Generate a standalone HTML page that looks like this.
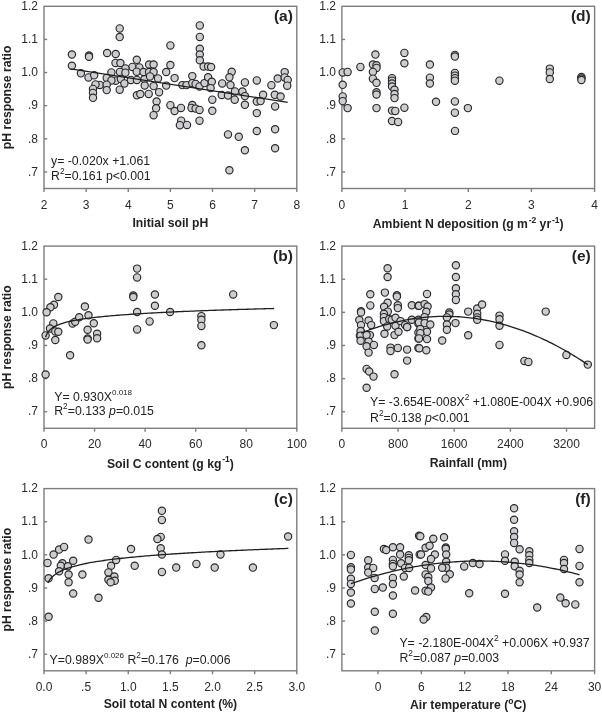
<!DOCTYPE html>
<html><head><meta charset="utf-8"><style>html,body{margin:0;padding:0;background:#fff;width:602px;height:713px;overflow:hidden}svg{display:block;filter:blur(0.3px)}</style></head><body>
<svg width="602" height="713" viewBox="0 0 602 713">
<style>text{font-family:"Liberation Sans",sans-serif;fill:#222}.tk{font-size:12px;fill:#2a2a2a}.eq{font-size:12.3px}.ti{font-size:12.2px;font-weight:bold}.lb{font-size:15.5px;font-weight:bold}.sup{font-size:8px}.tsup{font-size:8.5px}.esup{font-size:8.3px}circle{fill:#cdcdd1;stroke:#282828;stroke-width:1.15}</style>
<rect width="602" height="713" fill="#fff"/>
<text transform="translate(11.2,97.40) rotate(-90)" text-anchor="middle" class="ti">pH response ratio</text>
<text transform="translate(11.2,337.20) rotate(-90)" text-anchor="middle" class="ti">pH response ratio</text>
<text transform="translate(11.2,579.70) rotate(-90)" text-anchor="middle" class="ti">pH response ratio</text>
<rect x="44.0" y="6.3" width="252.80" height="182.2" fill="none" stroke="#7d7d7d" stroke-width="1.4"/>
<text x="38.00" y="10.00" text-anchor="end" class="tk">1.2</text>
<line x1="44.0" y1="39.43" x2="47.2" y2="39.43" stroke="#7d7d7d" stroke-width="1.4"/>
<text x="38.00" y="43.13" text-anchor="end" class="tk">1.1</text>
<line x1="44.0" y1="72.55" x2="47.2" y2="72.55" stroke="#7d7d7d" stroke-width="1.4"/>
<text x="38.00" y="76.25" text-anchor="end" class="tk">1.0</text>
<line x1="44.0" y1="105.68" x2="47.2" y2="105.68" stroke="#7d7d7d" stroke-width="1.4"/>
<text x="38.00" y="109.38" text-anchor="end" class="tk">.9</text>
<line x1="44.0" y1="138.81" x2="47.2" y2="138.81" stroke="#7d7d7d" stroke-width="1.4"/>
<text x="38.00" y="142.51" text-anchor="end" class="tk">.8</text>
<line x1="44.0" y1="171.94" x2="47.2" y2="171.94" stroke="#7d7d7d" stroke-width="1.4"/>
<text x="38.00" y="175.64" text-anchor="end" class="tk">.7</text>
<line x1="44.00" y1="188.5" x2="44.00" y2="191.9" stroke="#7d7d7d" stroke-width="1.4"/>
<text x="44.00" y="208.50" text-anchor="middle" class="tk">2</text>
<line x1="86.13" y1="188.5" x2="86.13" y2="191.9" stroke="#7d7d7d" stroke-width="1.4"/>
<text x="86.13" y="208.50" text-anchor="middle" class="tk">3</text>
<line x1="128.27" y1="188.5" x2="128.27" y2="191.9" stroke="#7d7d7d" stroke-width="1.4"/>
<text x="128.27" y="208.50" text-anchor="middle" class="tk">4</text>
<line x1="170.40" y1="188.5" x2="170.40" y2="191.9" stroke="#7d7d7d" stroke-width="1.4"/>
<text x="170.40" y="208.50" text-anchor="middle" class="tk">5</text>
<line x1="212.53" y1="188.5" x2="212.53" y2="191.9" stroke="#7d7d7d" stroke-width="1.4"/>
<text x="212.53" y="208.50" text-anchor="middle" class="tk">6</text>
<line x1="254.67" y1="188.5" x2="254.67" y2="191.9" stroke="#7d7d7d" stroke-width="1.4"/>
<text x="254.67" y="208.50" text-anchor="middle" class="tk">7</text>
<line x1="296.80" y1="188.5" x2="296.80" y2="191.9" stroke="#7d7d7d" stroke-width="1.4"/>
<text x="296.80" y="208.50" text-anchor="middle" class="tk">8</text>
<text x="292.90" y="21.30" text-anchor="end" class="lb">(a)</text>
<rect x="341.9" y="6.3" width="252.70" height="182.2" fill="none" stroke="#7d7d7d" stroke-width="1.4"/>
<text x="335.90" y="10.00" text-anchor="end" class="tk">1.2</text>
<line x1="341.9" y1="39.43" x2="345.09999999999997" y2="39.43" stroke="#7d7d7d" stroke-width="1.4"/>
<text x="335.90" y="43.13" text-anchor="end" class="tk">1.1</text>
<line x1="341.9" y1="72.55" x2="345.09999999999997" y2="72.55" stroke="#7d7d7d" stroke-width="1.4"/>
<text x="335.90" y="76.25" text-anchor="end" class="tk">1.0</text>
<line x1="341.9" y1="105.68" x2="345.09999999999997" y2="105.68" stroke="#7d7d7d" stroke-width="1.4"/>
<text x="335.90" y="109.38" text-anchor="end" class="tk">.9</text>
<line x1="341.9" y1="138.81" x2="345.09999999999997" y2="138.81" stroke="#7d7d7d" stroke-width="1.4"/>
<text x="335.90" y="142.51" text-anchor="end" class="tk">.8</text>
<line x1="341.9" y1="171.94" x2="345.09999999999997" y2="171.94" stroke="#7d7d7d" stroke-width="1.4"/>
<text x="335.90" y="175.64" text-anchor="end" class="tk">.7</text>
<line x1="341.90" y1="188.5" x2="341.90" y2="191.9" stroke="#7d7d7d" stroke-width="1.4"/>
<text x="341.90" y="208.50" text-anchor="middle" class="tk">0</text>
<line x1="405.07" y1="188.5" x2="405.07" y2="191.9" stroke="#7d7d7d" stroke-width="1.4"/>
<text x="405.07" y="208.50" text-anchor="middle" class="tk">1</text>
<line x1="468.25" y1="188.5" x2="468.25" y2="191.9" stroke="#7d7d7d" stroke-width="1.4"/>
<text x="468.25" y="208.50" text-anchor="middle" class="tk">2</text>
<line x1="531.42" y1="188.5" x2="531.42" y2="191.9" stroke="#7d7d7d" stroke-width="1.4"/>
<text x="531.42" y="208.50" text-anchor="middle" class="tk">3</text>
<line x1="594.60" y1="188.5" x2="594.60" y2="191.9" stroke="#7d7d7d" stroke-width="1.4"/>
<text x="594.60" y="208.50" text-anchor="middle" class="tk">4</text>
<text x="590.70" y="21.30" text-anchor="end" class="lb">(d)</text>
<rect x="44.0" y="246.1" width="252.80" height="182.2" fill="none" stroke="#7d7d7d" stroke-width="1.4"/>
<text x="38.00" y="249.80" text-anchor="end" class="tk">1.2</text>
<line x1="44.0" y1="279.23" x2="47.2" y2="279.23" stroke="#7d7d7d" stroke-width="1.4"/>
<text x="38.00" y="282.93" text-anchor="end" class="tk">1.1</text>
<line x1="44.0" y1="312.35" x2="47.2" y2="312.35" stroke="#7d7d7d" stroke-width="1.4"/>
<text x="38.00" y="316.05" text-anchor="end" class="tk">1.0</text>
<line x1="44.0" y1="345.48" x2="47.2" y2="345.48" stroke="#7d7d7d" stroke-width="1.4"/>
<text x="38.00" y="349.18" text-anchor="end" class="tk">.9</text>
<line x1="44.0" y1="378.61" x2="47.2" y2="378.61" stroke="#7d7d7d" stroke-width="1.4"/>
<text x="38.00" y="382.31" text-anchor="end" class="tk">.8</text>
<line x1="44.0" y1="411.74" x2="47.2" y2="411.74" stroke="#7d7d7d" stroke-width="1.4"/>
<text x="38.00" y="415.44" text-anchor="end" class="tk">.7</text>
<line x1="44.00" y1="428.29999999999995" x2="44.00" y2="431.69999999999993" stroke="#7d7d7d" stroke-width="1.4"/>
<text x="44.00" y="448.30" text-anchor="middle" class="tk">0</text>
<line x1="94.56" y1="428.29999999999995" x2="94.56" y2="431.69999999999993" stroke="#7d7d7d" stroke-width="1.4"/>
<text x="94.56" y="448.30" text-anchor="middle" class="tk">20</text>
<line x1="145.12" y1="428.29999999999995" x2="145.12" y2="431.69999999999993" stroke="#7d7d7d" stroke-width="1.4"/>
<text x="145.12" y="448.30" text-anchor="middle" class="tk">40</text>
<line x1="195.68" y1="428.29999999999995" x2="195.68" y2="431.69999999999993" stroke="#7d7d7d" stroke-width="1.4"/>
<text x="195.68" y="448.30" text-anchor="middle" class="tk">60</text>
<line x1="246.24" y1="428.29999999999995" x2="246.24" y2="431.69999999999993" stroke="#7d7d7d" stroke-width="1.4"/>
<text x="246.24" y="448.30" text-anchor="middle" class="tk">80</text>
<line x1="296.80" y1="428.29999999999995" x2="296.80" y2="431.69999999999993" stroke="#7d7d7d" stroke-width="1.4"/>
<text x="296.80" y="448.30" text-anchor="middle" class="tk">100</text>
<text x="292.90" y="261.10" text-anchor="end" class="lb">(b)</text>
<rect x="341.9" y="246.1" width="252.70" height="182.2" fill="none" stroke="#7d7d7d" stroke-width="1.4"/>
<text x="335.90" y="249.80" text-anchor="end" class="tk">1.2</text>
<line x1="341.9" y1="279.23" x2="345.09999999999997" y2="279.23" stroke="#7d7d7d" stroke-width="1.4"/>
<text x="335.90" y="282.93" text-anchor="end" class="tk">1.1</text>
<line x1="341.9" y1="312.35" x2="345.09999999999997" y2="312.35" stroke="#7d7d7d" stroke-width="1.4"/>
<text x="335.90" y="316.05" text-anchor="end" class="tk">1.0</text>
<line x1="341.9" y1="345.48" x2="345.09999999999997" y2="345.48" stroke="#7d7d7d" stroke-width="1.4"/>
<text x="335.90" y="349.18" text-anchor="end" class="tk">.9</text>
<line x1="341.9" y1="378.61" x2="345.09999999999997" y2="378.61" stroke="#7d7d7d" stroke-width="1.4"/>
<text x="335.90" y="382.31" text-anchor="end" class="tk">.8</text>
<line x1="341.9" y1="411.74" x2="345.09999999999997" y2="411.74" stroke="#7d7d7d" stroke-width="1.4"/>
<text x="335.90" y="415.44" text-anchor="end" class="tk">.7</text>
<line x1="341.90" y1="428.29999999999995" x2="341.90" y2="431.69999999999993" stroke="#7d7d7d" stroke-width="1.4"/>
<text x="341.90" y="448.30" text-anchor="middle" class="tk">0</text>
<line x1="398.06" y1="428.29999999999995" x2="398.06" y2="431.69999999999993" stroke="#7d7d7d" stroke-width="1.4"/>
<text x="398.06" y="448.30" text-anchor="middle" class="tk">800</text>
<line x1="454.21" y1="428.29999999999995" x2="454.21" y2="431.69999999999993" stroke="#7d7d7d" stroke-width="1.4"/>
<text x="454.21" y="448.30" text-anchor="middle" class="tk">1600</text>
<line x1="510.37" y1="428.29999999999995" x2="510.37" y2="431.69999999999993" stroke="#7d7d7d" stroke-width="1.4"/>
<text x="510.37" y="448.30" text-anchor="middle" class="tk">2400</text>
<line x1="566.52" y1="428.29999999999995" x2="566.52" y2="431.69999999999993" stroke="#7d7d7d" stroke-width="1.4"/>
<text x="566.52" y="448.30" text-anchor="middle" class="tk">3200</text>
<text x="590.70" y="261.10" text-anchor="end" class="lb">(e)</text>
<rect x="44.0" y="488.6" width="252.80" height="182.2" fill="none" stroke="#7d7d7d" stroke-width="1.4"/>
<text x="38.00" y="492.30" text-anchor="end" class="tk">1.2</text>
<line x1="44.0" y1="521.73" x2="47.2" y2="521.73" stroke="#7d7d7d" stroke-width="1.4"/>
<text x="38.00" y="525.43" text-anchor="end" class="tk">1.1</text>
<line x1="44.0" y1="554.85" x2="47.2" y2="554.85" stroke="#7d7d7d" stroke-width="1.4"/>
<text x="38.00" y="558.55" text-anchor="end" class="tk">1.0</text>
<line x1="44.0" y1="587.98" x2="47.2" y2="587.98" stroke="#7d7d7d" stroke-width="1.4"/>
<text x="38.00" y="591.68" text-anchor="end" class="tk">.9</text>
<line x1="44.0" y1="621.11" x2="47.2" y2="621.11" stroke="#7d7d7d" stroke-width="1.4"/>
<text x="38.00" y="624.81" text-anchor="end" class="tk">.8</text>
<line x1="44.0" y1="654.24" x2="47.2" y2="654.24" stroke="#7d7d7d" stroke-width="1.4"/>
<text x="38.00" y="657.94" text-anchor="end" class="tk">.7</text>
<line x1="44.00" y1="670.8" x2="44.00" y2="674.1999999999999" stroke="#7d7d7d" stroke-width="1.4"/>
<text x="44.00" y="690.80" text-anchor="middle" class="tk">0.0</text>
<line x1="86.13" y1="670.8" x2="86.13" y2="674.1999999999999" stroke="#7d7d7d" stroke-width="1.4"/>
<text x="86.13" y="690.80" text-anchor="middle" class="tk">.5</text>
<line x1="128.27" y1="670.8" x2="128.27" y2="674.1999999999999" stroke="#7d7d7d" stroke-width="1.4"/>
<text x="128.27" y="690.80" text-anchor="middle" class="tk">1.0</text>
<line x1="170.40" y1="670.8" x2="170.40" y2="674.1999999999999" stroke="#7d7d7d" stroke-width="1.4"/>
<text x="170.40" y="690.80" text-anchor="middle" class="tk">1.5</text>
<line x1="212.53" y1="670.8" x2="212.53" y2="674.1999999999999" stroke="#7d7d7d" stroke-width="1.4"/>
<text x="212.53" y="690.80" text-anchor="middle" class="tk">2.0</text>
<line x1="254.67" y1="670.8" x2="254.67" y2="674.1999999999999" stroke="#7d7d7d" stroke-width="1.4"/>
<text x="254.67" y="690.80" text-anchor="middle" class="tk">2.5</text>
<line x1="296.80" y1="670.8" x2="296.80" y2="674.1999999999999" stroke="#7d7d7d" stroke-width="1.4"/>
<text x="296.80" y="690.80" text-anchor="middle" class="tk">3.0</text>
<text x="292.90" y="503.60" text-anchor="end" class="lb">(c)</text>
<rect x="341.9" y="488.6" width="252.70" height="182.2" fill="none" stroke="#7d7d7d" stroke-width="1.4"/>
<text x="335.90" y="492.30" text-anchor="end" class="tk">1.2</text>
<line x1="341.9" y1="521.73" x2="345.09999999999997" y2="521.73" stroke="#7d7d7d" stroke-width="1.4"/>
<text x="335.90" y="525.43" text-anchor="end" class="tk">1.1</text>
<line x1="341.9" y1="554.85" x2="345.09999999999997" y2="554.85" stroke="#7d7d7d" stroke-width="1.4"/>
<text x="335.90" y="558.55" text-anchor="end" class="tk">1.0</text>
<line x1="341.9" y1="587.98" x2="345.09999999999997" y2="587.98" stroke="#7d7d7d" stroke-width="1.4"/>
<text x="335.90" y="591.68" text-anchor="end" class="tk">.9</text>
<line x1="341.9" y1="621.11" x2="345.09999999999997" y2="621.11" stroke="#7d7d7d" stroke-width="1.4"/>
<text x="335.90" y="624.81" text-anchor="end" class="tk">.8</text>
<line x1="341.9" y1="654.24" x2="345.09999999999997" y2="654.24" stroke="#7d7d7d" stroke-width="1.4"/>
<text x="335.90" y="657.94" text-anchor="end" class="tk">.7</text>
<line x1="378.00" y1="670.8" x2="378.00" y2="674.1999999999999" stroke="#7d7d7d" stroke-width="1.4"/>
<text x="378.00" y="690.80" text-anchor="middle" class="tk">0</text>
<line x1="421.32" y1="670.8" x2="421.32" y2="674.1999999999999" stroke="#7d7d7d" stroke-width="1.4"/>
<text x="421.32" y="690.80" text-anchor="middle" class="tk">6</text>
<line x1="464.64" y1="670.8" x2="464.64" y2="674.1999999999999" stroke="#7d7d7d" stroke-width="1.4"/>
<text x="464.64" y="690.80" text-anchor="middle" class="tk">12</text>
<line x1="507.96" y1="670.8" x2="507.96" y2="674.1999999999999" stroke="#7d7d7d" stroke-width="1.4"/>
<text x="507.96" y="690.80" text-anchor="middle" class="tk">18</text>
<line x1="551.28" y1="670.8" x2="551.28" y2="674.1999999999999" stroke="#7d7d7d" stroke-width="1.4"/>
<text x="551.28" y="690.80" text-anchor="middle" class="tk">24</text>
<line x1="594.60" y1="670.8" x2="594.60" y2="674.1999999999999" stroke="#7d7d7d" stroke-width="1.4"/>
<text x="594.60" y="690.80" text-anchor="middle" class="tk">30</text>
<text x="590.70" y="503.60" text-anchor="end" class="lb">(f)</text>
<circle cx="71.9" cy="54.5" r="3.65"/>
<circle cx="71.9" cy="65.8" r="3.65"/>
<circle cx="89.0" cy="55.6" r="3.65"/>
<circle cx="89.0" cy="56.7" r="3.65"/>
<circle cx="80.9" cy="73.3" r="3.65"/>
<circle cx="88.5" cy="77.4" r="3.65"/>
<circle cx="94.2" cy="75.3" r="3.65"/>
<circle cx="119.7" cy="28.4" r="3.65"/>
<circle cx="119.7" cy="37.1" r="3.65"/>
<circle cx="107.1" cy="53" r="3.65"/>
<circle cx="115.7" cy="54" r="3.65"/>
<circle cx="115.5" cy="62.9" r="3.65"/>
<circle cx="120.4" cy="63" r="3.65"/>
<circle cx="136.8" cy="59.8" r="3.65"/>
<circle cx="132.4" cy="66.9" r="3.65"/>
<circle cx="139.4" cy="67.4" r="3.65"/>
<circle cx="125.4" cy="68.4" r="3.65"/>
<circle cx="119.9" cy="71.9" r="3.65"/>
<circle cx="136.7" cy="71.7" r="3.65"/>
<circle cx="125.4" cy="72.7" r="3.65"/>
<circle cx="111.4" cy="72.4" r="3.65"/>
<circle cx="106.7" cy="77.9" r="3.65"/>
<circle cx="115.7" cy="80.7" r="3.65"/>
<circle cx="120.9" cy="78.9" r="3.65"/>
<circle cx="124.4" cy="83.4" r="3.65"/>
<circle cx="130.9" cy="79.9" r="3.65"/>
<circle cx="136.9" cy="79.9" r="3.65"/>
<circle cx="111.4" cy="80.4" r="3.65"/>
<circle cx="99.8" cy="84.9" r="3.65"/>
<circle cx="95.5" cy="84.4" r="3.65"/>
<circle cx="106.7" cy="84.7" r="3.65"/>
<circle cx="106.7" cy="90.1" r="3.65"/>
<circle cx="119.7" cy="89.7" r="3.65"/>
<circle cx="93" cy="88.9" r="3.65"/>
<circle cx="93" cy="92.9" r="3.65"/>
<circle cx="93" cy="97.8" r="3.65"/>
<circle cx="136.9" cy="95.3" r="3.65"/>
<circle cx="140.3" cy="94" r="3.65"/>
<circle cx="144.5" cy="79" r="3.65"/>
<circle cx="144.7" cy="85.5" r="3.65"/>
<circle cx="148.7" cy="93.9" r="3.65"/>
<circle cx="143.5" cy="72" r="3.65"/>
<circle cx="199.8" cy="25.4" r="3.65"/>
<circle cx="199.8" cy="36.9" r="3.65"/>
<circle cx="170.4" cy="45.4" r="3.65"/>
<circle cx="199.8" cy="48.7" r="3.65"/>
<circle cx="199.8" cy="54.5" r="3.65"/>
<circle cx="199.8" cy="60.2" r="3.65"/>
<circle cx="203.6" cy="66.5" r="3.65"/>
<circle cx="208.1" cy="66.5" r="3.65"/>
<circle cx="211.1" cy="67" r="3.65"/>
<circle cx="170.4" cy="65.1" r="3.65"/>
<circle cx="166.2" cy="72" r="3.65"/>
<circle cx="149.1" cy="64.5" r="3.65"/>
<circle cx="153.6" cy="64.5" r="3.65"/>
<circle cx="149.1" cy="72" r="3.65"/>
<circle cx="153.6" cy="72" r="3.65"/>
<circle cx="158" cy="78.4" r="3.65"/>
<circle cx="150" cy="76.4" r="3.65"/>
<circle cx="153.6" cy="86.1" r="3.65"/>
<circle cx="159.1" cy="92.2" r="3.65"/>
<circle cx="166.2" cy="85.6" r="3.65"/>
<circle cx="174.6" cy="78.1" r="3.65"/>
<circle cx="182.4" cy="85.1" r="3.65"/>
<circle cx="186.5" cy="85.1" r="3.65"/>
<circle cx="192.3" cy="76.1" r="3.65"/>
<circle cx="192.3" cy="83.1" r="3.65"/>
<circle cx="195.6" cy="83.9" r="3.65"/>
<circle cx="199.5" cy="86.4" r="3.65"/>
<circle cx="204.5" cy="83.1" r="3.65"/>
<circle cx="208.1" cy="77.3" r="3.65"/>
<circle cx="211.8" cy="81.8" r="3.65"/>
<circle cx="210.6" cy="88.1" r="3.65"/>
<circle cx="222.2" cy="83.4" r="3.65"/>
<circle cx="231.7" cy="71.8" r="3.65"/>
<circle cx="229.4" cy="77.3" r="3.65"/>
<circle cx="230.5" cy="85.1" r="3.65"/>
<circle cx="235" cy="91.4" r="3.65"/>
<circle cx="221.7" cy="95" r="3.65"/>
<circle cx="228" cy="95.5" r="3.65"/>
<circle cx="234.7" cy="99.7" r="3.65"/>
<circle cx="212.3" cy="99.7" r="3.65"/>
<circle cx="156.6" cy="101.5" r="3.65"/>
<circle cx="156.1" cy="108.3" r="3.65"/>
<circle cx="153.6" cy="115.2" r="3.65"/>
<circle cx="170.4" cy="105.2" r="3.65"/>
<circle cx="174.6" cy="111" r="3.65"/>
<circle cx="181" cy="107.9" r="3.65"/>
<circle cx="192.3" cy="105" r="3.65"/>
<circle cx="191.5" cy="107.9" r="3.65"/>
<circle cx="195.6" cy="108.6" r="3.65"/>
<circle cx="199.5" cy="109.9" r="3.65"/>
<circle cx="212.3" cy="110.8" r="3.65"/>
<circle cx="199.5" cy="120.7" r="3.65"/>
<circle cx="181.2" cy="120.7" r="3.65"/>
<circle cx="179.9" cy="125.2" r="3.65"/>
<circle cx="187" cy="124.9" r="3.65"/>
<circle cx="228" cy="134.4" r="3.65"/>
<circle cx="238.8" cy="136.8" r="3.65"/>
<circle cx="229.4" cy="170.2" r="3.65"/>
<circle cx="244.9" cy="82.4" r="3.65"/>
<circle cx="242.4" cy="91.5" r="3.65"/>
<circle cx="244.9" cy="96.1" r="3.65"/>
<circle cx="244.9" cy="104.8" r="3.65"/>
<circle cx="256.8" cy="80.4" r="3.65"/>
<circle cx="263.1" cy="94.8" r="3.65"/>
<circle cx="256.8" cy="101.5" r="3.65"/>
<circle cx="260.6" cy="101.1" r="3.65"/>
<circle cx="256.8" cy="113.1" r="3.65"/>
<circle cx="256.8" cy="131" r="3.65"/>
<circle cx="271.4" cy="85.2" r="3.65"/>
<circle cx="274.8" cy="94.8" r="3.65"/>
<circle cx="280.6" cy="96.5" r="3.65"/>
<circle cx="275.1" cy="106.4" r="3.65"/>
<circle cx="275.1" cy="129.2" r="3.65"/>
<circle cx="277.7" cy="78.5" r="3.65"/>
<circle cx="284.7" cy="72.1" r="3.65"/>
<circle cx="284.7" cy="77.4" r="3.65"/>
<circle cx="287.7" cy="79.9" r="3.65"/>
<circle cx="287.2" cy="85.7" r="3.65"/>
<circle cx="244.9" cy="150.2" r="3.65"/>
<circle cx="275.1" cy="148.2" r="3.65"/>
<circle cx="58.3" cy="297" r="3.65"/>
<circle cx="54" cy="304.8" r="3.65"/>
<circle cx="50.4" cy="307.2" r="3.65"/>
<circle cx="46.6" cy="312.3" r="3.65"/>
<circle cx="53.3" cy="323.4" r="3.65"/>
<circle cx="50" cy="328.5" r="3.65"/>
<circle cx="45.6" cy="335.4" r="3.65"/>
<circle cx="55.3" cy="331.4" r="3.65"/>
<circle cx="58.3" cy="331.8" r="3.65"/>
<circle cx="55.3" cy="340" r="3.65"/>
<circle cx="72.6" cy="323.4" r="3.65"/>
<circle cx="75.2" cy="321.8" r="3.65"/>
<circle cx="79.2" cy="317.2" r="3.65"/>
<circle cx="84.9" cy="306.5" r="3.65"/>
<circle cx="88.5" cy="315.2" r="3.65"/>
<circle cx="93.8" cy="323.2" r="3.65"/>
<circle cx="87.6" cy="329.8" r="3.65"/>
<circle cx="87.6" cy="338.4" r="3.65"/>
<circle cx="87.6" cy="339.5" r="3.65"/>
<circle cx="97.1" cy="333.8" r="3.65"/>
<circle cx="97.1" cy="338.2" r="3.65"/>
<circle cx="137.1" cy="268.6" r="3.65"/>
<circle cx="137.1" cy="277.4" r="3.65"/>
<circle cx="133.3" cy="295.5" r="3.65"/>
<circle cx="133.3" cy="297" r="3.65"/>
<circle cx="137.1" cy="312" r="3.65"/>
<circle cx="137.1" cy="329.4" r="3.65"/>
<circle cx="154.9" cy="294.5" r="3.65"/>
<circle cx="154.9" cy="305.7" r="3.65"/>
<circle cx="149.6" cy="321.4" r="3.65"/>
<circle cx="170.1" cy="312" r="3.65"/>
<circle cx="201.4" cy="316.1" r="3.65"/>
<circle cx="201.4" cy="319.8" r="3.65"/>
<circle cx="201.4" cy="325.9" r="3.65"/>
<circle cx="201.4" cy="345.2" r="3.65"/>
<circle cx="233.2" cy="294.4" r="3.65"/>
<circle cx="273.9" cy="325.1" r="3.65"/>
<circle cx="70.1" cy="355.2" r="3.65"/>
<circle cx="45.6" cy="374.5" r="3.65"/>
<circle cx="47.5" cy="562.9" r="3.65"/>
<circle cx="48.6" cy="578.2" r="3.65"/>
<circle cx="48.6" cy="616.7" r="3.65"/>
<circle cx="53.6" cy="554.6" r="3.65"/>
<circle cx="59.1" cy="549.6" r="3.65"/>
<circle cx="64.1" cy="546.9" r="3.65"/>
<circle cx="62.4" cy="563.2" r="3.65"/>
<circle cx="60.8" cy="565.7" r="3.65"/>
<circle cx="59.1" cy="571.2" r="3.65"/>
<circle cx="67.9" cy="566.2" r="3.65"/>
<circle cx="73.2" cy="560.7" r="3.65"/>
<circle cx="68.6" cy="574.5" r="3.65"/>
<circle cx="68.6" cy="582.3" r="3.65"/>
<circle cx="73.2" cy="593.5" r="3.65"/>
<circle cx="88.5" cy="539.6" r="3.65"/>
<circle cx="82.4" cy="574.5" r="3.65"/>
<circle cx="98.5" cy="597.8" r="3.65"/>
<circle cx="111.1" cy="565.7" r="3.65"/>
<circle cx="116.1" cy="559.9" r="3.65"/>
<circle cx="108.4" cy="572.4" r="3.65"/>
<circle cx="114.4" cy="576.5" r="3.65"/>
<circle cx="108.4" cy="579.8" r="3.65"/>
<circle cx="114.8" cy="580.7" r="3.65"/>
<circle cx="110.6" cy="582.3" r="3.65"/>
<circle cx="131" cy="549.1" r="3.65"/>
<circle cx="134.7" cy="565.7" r="3.65"/>
<circle cx="161.9" cy="510.8" r="3.65"/>
<circle cx="161.9" cy="519.9" r="3.65"/>
<circle cx="160.7" cy="536.9" r="3.65"/>
<circle cx="157.4" cy="539" r="3.65"/>
<circle cx="160.7" cy="548.2" r="3.65"/>
<circle cx="161.9" cy="554.5" r="3.65"/>
<circle cx="161.9" cy="571.9" r="3.65"/>
<circle cx="176.2" cy="567.6" r="3.65"/>
<circle cx="196.4" cy="563.9" r="3.65"/>
<circle cx="214.7" cy="567.6" r="3.65"/>
<circle cx="220.5" cy="554.5" r="3.65"/>
<circle cx="288.1" cy="536.5" r="3.65"/>
<circle cx="252.9" cy="567.6" r="3.65"/>
<circle cx="342.7" cy="72.4" r="3.65"/>
<circle cx="347.6" cy="71.9" r="3.65"/>
<circle cx="342.7" cy="84.8" r="3.65"/>
<circle cx="342.7" cy="96.4" r="3.65"/>
<circle cx="342.7" cy="101.1" r="3.65"/>
<circle cx="347.6" cy="108.1" r="3.65"/>
<circle cx="360.4" cy="66.9" r="3.65"/>
<circle cx="375.4" cy="54.6" r="3.65"/>
<circle cx="372.9" cy="64.6" r="3.65"/>
<circle cx="376.5" cy="65.2" r="3.65"/>
<circle cx="376.5" cy="67.9" r="3.65"/>
<circle cx="372.9" cy="71.9" r="3.65"/>
<circle cx="372.9" cy="78.7" r="3.65"/>
<circle cx="376.5" cy="82.8" r="3.65"/>
<circle cx="376.5" cy="92.3" r="3.65"/>
<circle cx="376.5" cy="94.5" r="3.65"/>
<circle cx="376.5" cy="108.1" r="3.65"/>
<circle cx="392" cy="78.2" r="3.65"/>
<circle cx="392" cy="80.7" r="3.65"/>
<circle cx="392" cy="83.5" r="3.65"/>
<circle cx="392" cy="86.5" r="3.65"/>
<circle cx="394.5" cy="89.8" r="3.65"/>
<circle cx="394.5" cy="94" r="3.65"/>
<circle cx="394.5" cy="98.1" r="3.65"/>
<circle cx="392" cy="110.6" r="3.65"/>
<circle cx="395.3" cy="110.9" r="3.65"/>
<circle cx="392" cy="121" r="3.65"/>
<circle cx="398.1" cy="121.9" r="3.65"/>
<circle cx="404.4" cy="52.9" r="3.65"/>
<circle cx="404.4" cy="63.2" r="3.65"/>
<circle cx="404.4" cy="107.7" r="3.65"/>
<circle cx="429.9" cy="64.6" r="3.65"/>
<circle cx="429.9" cy="77.7" r="3.65"/>
<circle cx="429.9" cy="83.5" r="3.65"/>
<circle cx="436" cy="101.8" r="3.65"/>
<circle cx="454.9" cy="54.9" r="3.65"/>
<circle cx="454.9" cy="56.6" r="3.65"/>
<circle cx="454.9" cy="72.9" r="3.65"/>
<circle cx="454.9" cy="75.7" r="3.65"/>
<circle cx="454.9" cy="78.2" r="3.65"/>
<circle cx="454.9" cy="80.7" r="3.65"/>
<circle cx="454.9" cy="101.4" r="3.65"/>
<circle cx="454.9" cy="112.7" r="3.65"/>
<circle cx="455" cy="130.9" r="3.65"/>
<circle cx="467.9" cy="108.1" r="3.65"/>
<circle cx="499.4" cy="80.7" r="3.65"/>
<circle cx="549.8" cy="68.6" r="3.65"/>
<circle cx="549.8" cy="72.4" r="3.65"/>
<circle cx="549.8" cy="79" r="3.65"/>
<circle cx="581.4" cy="77" r="3.65"/>
<circle cx="581.4" cy="78.5" r="3.65"/>
<circle cx="581.4" cy="80" r="3.65"/>
<circle cx="387.6" cy="268.2" r="3.65"/>
<circle cx="387.6" cy="277" r="3.65"/>
<circle cx="370.3" cy="294.3" r="3.65"/>
<circle cx="384.9" cy="292.6" r="3.65"/>
<circle cx="396.9" cy="295.3" r="3.65"/>
<circle cx="396.9" cy="296.6" r="3.65"/>
<circle cx="370.3" cy="305.4" r="3.65"/>
<circle cx="387.6" cy="302.8" r="3.65"/>
<circle cx="384.1" cy="306.8" r="3.65"/>
<circle cx="387.8" cy="311.6" r="3.65"/>
<circle cx="397.8" cy="305.2" r="3.65"/>
<circle cx="397.8" cy="308.1" r="3.65"/>
<circle cx="411.8" cy="305.2" r="3.65"/>
<circle cx="418.4" cy="305.8" r="3.65"/>
<circle cx="361" cy="311.2" r="3.65"/>
<circle cx="361" cy="312.4" r="3.65"/>
<circle cx="359.3" cy="320.1" r="3.65"/>
<circle cx="361" cy="325.1" r="3.65"/>
<circle cx="361" cy="331.8" r="3.65"/>
<circle cx="359.9" cy="335.7" r="3.65"/>
<circle cx="368.6" cy="320.5" r="3.65"/>
<circle cx="371.2" cy="325.1" r="3.65"/>
<circle cx="367.2" cy="335.1" r="3.65"/>
<circle cx="369.9" cy="335.1" r="3.65"/>
<circle cx="383.9" cy="313.8" r="3.65"/>
<circle cx="383.9" cy="317.1" r="3.65"/>
<circle cx="383.9" cy="321.1" r="3.65"/>
<circle cx="387.2" cy="326.4" r="3.65"/>
<circle cx="389.2" cy="319.1" r="3.65"/>
<circle cx="391.8" cy="319.8" r="3.65"/>
<circle cx="395.5" cy="317.8" r="3.65"/>
<circle cx="395.5" cy="325.8" r="3.65"/>
<circle cx="400.5" cy="321.1" r="3.65"/>
<circle cx="405.1" cy="325.1" r="3.65"/>
<circle cx="407.1" cy="327.1" r="3.65"/>
<circle cx="411.8" cy="319.8" r="3.65"/>
<circle cx="418.4" cy="319.8" r="3.65"/>
<circle cx="418.4" cy="323.5" r="3.65"/>
<circle cx="384.5" cy="333.8" r="3.65"/>
<circle cx="394.5" cy="335.1" r="3.65"/>
<circle cx="398.5" cy="331.8" r="3.65"/>
<circle cx="418.4" cy="332.4" r="3.65"/>
<circle cx="418.4" cy="338.4" r="3.65"/>
<circle cx="360.6" cy="331" r="3.65"/>
<circle cx="360.6" cy="335.6" r="3.65"/>
<circle cx="360.6" cy="340.7" r="3.65"/>
<circle cx="366.6" cy="335" r="3.65"/>
<circle cx="368.6" cy="341.6" r="3.65"/>
<circle cx="366.6" cy="346.3" r="3.65"/>
<circle cx="373.9" cy="344.9" r="3.65"/>
<circle cx="368.6" cy="352.6" r="3.65"/>
<circle cx="366.6" cy="368.9" r="3.65"/>
<circle cx="369.2" cy="371.5" r="3.65"/>
<circle cx="373.5" cy="376.6" r="3.65"/>
<circle cx="366.6" cy="387.7" r="3.65"/>
<circle cx="390.5" cy="347.6" r="3.65"/>
<circle cx="390.5" cy="350.9" r="3.65"/>
<circle cx="397.8" cy="347.9" r="3.65"/>
<circle cx="407.1" cy="349.6" r="3.65"/>
<circle cx="407.1" cy="360.6" r="3.65"/>
<circle cx="394.5" cy="374.2" r="3.65"/>
<circle cx="418.4" cy="347.9" r="3.65"/>
<circle cx="407.1" cy="327" r="3.65"/>
<circle cx="455.9" cy="265.3" r="3.65"/>
<circle cx="455.9" cy="277" r="3.65"/>
<circle cx="455.9" cy="288.3" r="3.65"/>
<circle cx="455.9" cy="294.3" r="3.65"/>
<circle cx="455.9" cy="299.9" r="3.65"/>
<circle cx="427" cy="293.9" r="3.65"/>
<circle cx="419" cy="305.8" r="3.65"/>
<circle cx="424.6" cy="304.1" r="3.65"/>
<circle cx="427.6" cy="306.5" r="3.65"/>
<circle cx="426.3" cy="311.8" r="3.65"/>
<circle cx="424.6" cy="317.1" r="3.65"/>
<circle cx="419" cy="322.5" r="3.65"/>
<circle cx="424.6" cy="323.1" r="3.65"/>
<circle cx="430.3" cy="324.5" r="3.65"/>
<circle cx="420.3" cy="329.1" r="3.65"/>
<circle cx="427" cy="331.8" r="3.65"/>
<circle cx="420.3" cy="333.1" r="3.65"/>
<circle cx="419" cy="338.4" r="3.65"/>
<circle cx="427" cy="339.1" r="3.65"/>
<circle cx="442.2" cy="340.5" r="3.65"/>
<circle cx="449.3" cy="312.5" r="3.65"/>
<circle cx="449.3" cy="314.5" r="3.65"/>
<circle cx="446.9" cy="317.4" r="3.65"/>
<circle cx="446.9" cy="324.5" r="3.65"/>
<circle cx="446.9" cy="329.8" r="3.65"/>
<circle cx="455.5" cy="323.1" r="3.65"/>
<circle cx="468.2" cy="311.6" r="3.65"/>
<circle cx="468.2" cy="335.3" r="3.65"/>
<circle cx="477.2" cy="308.5" r="3.65"/>
<circle cx="482.1" cy="304.5" r="3.65"/>
<circle cx="477.2" cy="313.8" r="3.65"/>
<circle cx="477.2" cy="317.4" r="3.65"/>
<circle cx="477.2" cy="319.8" r="3.65"/>
<circle cx="419.3" cy="348.3" r="3.65"/>
<circle cx="426.3" cy="350.2" r="3.65"/>
<circle cx="499.5" cy="315.6" r="3.65"/>
<circle cx="499.5" cy="319.3" r="3.65"/>
<circle cx="499.5" cy="325.7" r="3.65"/>
<circle cx="499.5" cy="344.9" r="3.65"/>
<circle cx="545.7" cy="311.6" r="3.65"/>
<circle cx="524.4" cy="360.9" r="3.65"/>
<circle cx="528.4" cy="361.9" r="3.65"/>
<circle cx="566.4" cy="354.9" r="3.65"/>
<circle cx="587.8" cy="364.6" r="3.65"/>
<circle cx="350.9" cy="554.9" r="3.65"/>
<circle cx="350.9" cy="567.2" r="3.65"/>
<circle cx="350.9" cy="569.5" r="3.65"/>
<circle cx="350.9" cy="578.8" r="3.65"/>
<circle cx="350.9" cy="583.9" r="3.65"/>
<circle cx="350.9" cy="592.5" r="3.65"/>
<circle cx="350.9" cy="603.5" r="3.65"/>
<circle cx="368.2" cy="560.2" r="3.65"/>
<circle cx="368.2" cy="567.6" r="3.65"/>
<circle cx="373.2" cy="567.9" r="3.65"/>
<circle cx="368.2" cy="572.6" r="3.65"/>
<circle cx="374.6" cy="577.9" r="3.65"/>
<circle cx="374.8" cy="588.9" r="3.65"/>
<circle cx="374.8" cy="611.8" r="3.65"/>
<circle cx="382.8" cy="587.6" r="3.65"/>
<circle cx="383.9" cy="549" r="3.65"/>
<circle cx="386.2" cy="550" r="3.65"/>
<circle cx="392.9" cy="547.3" r="3.65"/>
<circle cx="400.1" cy="547.3" r="3.65"/>
<circle cx="400.1" cy="554.6" r="3.65"/>
<circle cx="392.9" cy="559.9" r="3.65"/>
<circle cx="392.9" cy="563.9" r="3.65"/>
<circle cx="392.9" cy="566.3" r="3.65"/>
<circle cx="392.9" cy="577.9" r="3.65"/>
<circle cx="392.9" cy="584.1" r="3.65"/>
<circle cx="392.9" cy="595.5" r="3.65"/>
<circle cx="392.9" cy="613.8" r="3.65"/>
<circle cx="401.1" cy="563.3" r="3.65"/>
<circle cx="403.8" cy="576.5" r="3.65"/>
<circle cx="408.8" cy="555.3" r="3.65"/>
<circle cx="408.8" cy="557.9" r="3.65"/>
<circle cx="408.8" cy="560.2" r="3.65"/>
<circle cx="405.1" cy="567.9" r="3.65"/>
<circle cx="409.1" cy="567.9" r="3.65"/>
<circle cx="415.1" cy="590.5" r="3.65"/>
<circle cx="419.7" cy="554.6" r="3.65"/>
<circle cx="419.1" cy="535.8" r="3.65"/>
<circle cx="374.8" cy="630.6" r="3.65"/>
<circle cx="420.3" cy="536.2" r="3.65"/>
<circle cx="433.3" cy="538.8" r="3.65"/>
<circle cx="444" cy="537.2" r="3.65"/>
<circle cx="425.6" cy="547.8" r="3.65"/>
<circle cx="429.6" cy="545.8" r="3.65"/>
<circle cx="421" cy="554.5" r="3.65"/>
<circle cx="434.9" cy="554.5" r="3.65"/>
<circle cx="431" cy="559.1" r="3.65"/>
<circle cx="445.8" cy="547.5" r="3.65"/>
<circle cx="445.8" cy="548.8" r="3.65"/>
<circle cx="446.2" cy="554.5" r="3.65"/>
<circle cx="446.2" cy="561.8" r="3.65"/>
<circle cx="446.2" cy="567.8" r="3.65"/>
<circle cx="442.2" cy="567.8" r="3.65"/>
<circle cx="425.6" cy="565.1" r="3.65"/>
<circle cx="431" cy="568.4" r="3.65"/>
<circle cx="449.8" cy="574.2" r="3.65"/>
<circle cx="445.6" cy="578.4" r="3.65"/>
<circle cx="425.6" cy="574.4" r="3.65"/>
<circle cx="428.3" cy="577.1" r="3.65"/>
<circle cx="464.2" cy="566.4" r="3.65"/>
<circle cx="472.8" cy="563.1" r="3.65"/>
<circle cx="479.5" cy="564.1" r="3.65"/>
<circle cx="428.3" cy="581" r="3.65"/>
<circle cx="431" cy="587.6" r="3.65"/>
<circle cx="425.6" cy="590.8" r="3.65"/>
<circle cx="428.3" cy="591.6" r="3.65"/>
<circle cx="469.2" cy="593.2" r="3.65"/>
<circle cx="426.3" cy="617.1" r="3.65"/>
<circle cx="423.6" cy="619.5" r="3.65"/>
<circle cx="514.1" cy="508.2" r="3.65"/>
<circle cx="514.1" cy="519.7" r="3.65"/>
<circle cx="514.1" cy="531.2" r="3.65"/>
<circle cx="514.1" cy="537" r="3.65"/>
<circle cx="514.1" cy="542.9" r="3.65"/>
<circle cx="519.6" cy="549.3" r="3.65"/>
<circle cx="505" cy="554.4" r="3.65"/>
<circle cx="505" cy="560.8" r="3.65"/>
<circle cx="514.7" cy="561.7" r="3.65"/>
<circle cx="514.7" cy="566.3" r="3.65"/>
<circle cx="519.6" cy="570.8" r="3.65"/>
<circle cx="519.6" cy="574.5" r="3.65"/>
<circle cx="519.6" cy="582.3" r="3.65"/>
<circle cx="505" cy="593.7" r="3.65"/>
<circle cx="529.3" cy="551.3" r="3.65"/>
<circle cx="529.3" cy="555.3" r="3.65"/>
<circle cx="529.3" cy="559.9" r="3.65"/>
<circle cx="529.3" cy="563" r="3.65"/>
<circle cx="564" cy="559.9" r="3.65"/>
<circle cx="564" cy="563" r="3.65"/>
<circle cx="564" cy="569" r="3.65"/>
<circle cx="579.5" cy="548.9" r="3.65"/>
<circle cx="579.5" cy="565.9" r="3.65"/>
<circle cx="579.5" cy="582.2" r="3.65"/>
<circle cx="560.3" cy="597.6" r="3.65"/>
<circle cx="565.6" cy="603.3" r="3.65"/>
<circle cx="575.3" cy="604.4" r="3.65"/>
<circle cx="537.2" cy="607.5" r="3.65"/>
<line x1="70.6" y1="68.9" x2="287.7" y2="102.3" stroke="#1e1e1e" stroke-width="1.3"/>
<polyline points="45.52,337.36 47.42,332.86 49.33,330.38 51.23,328.66 53.13,327.34 55.04,326.26 56.94,325.35 58.85,324.57 60.75,323.88 62.66,323.26 64.56,322.70 66.47,322.19 68.37,321.72 70.27,321.28 72.18,320.88 74.08,320.50 75.99,320.14 77.89,319.81 79.80,319.49 81.70,319.19 83.61,318.90 85.51,318.63 87.41,318.37 89.32,318.11 91.22,317.87 93.13,317.64 95.03,317.42 96.94,317.21 98.84,317.00 100.75,316.80 102.65,316.60 104.55,316.42 106.46,316.24 108.36,316.06 110.27,315.89 112.17,315.72 114.08,315.56 115.98,315.40 117.89,315.25 119.79,315.10 121.69,314.95 123.60,314.81 125.50,314.67 127.41,314.53 129.31,314.40 131.22,314.27 133.12,314.14 135.02,314.02 136.93,313.89 138.83,313.77 140.74,313.65 142.64,313.54 144.55,313.43 146.45,313.31 148.36,313.21 150.26,313.10 152.16,312.99 154.07,312.89 155.97,312.79 157.88,312.69 159.78,312.59 161.69,312.49 163.59,312.40 165.50,312.30 167.40,312.21 169.30,312.12 171.21,312.03 173.11,311.94 175.02,311.85 176.92,311.77 178.83,311.68 180.73,311.60 182.64,311.52 184.54,311.44 186.44,311.36 188.35,311.28 190.25,311.20 192.16,311.12 194.06,311.04 195.97,310.97 197.87,310.90 199.78,310.82 201.68,310.75 203.58,310.68 205.49,310.61 207.39,310.54 209.30,310.47 211.20,310.40 213.11,310.33 215.01,310.26 216.92,310.20 218.82,310.13 220.72,310.07 222.63,310.00 224.53,309.94 226.44,309.88 228.34,309.81 230.25,309.75 232.15,309.69 234.06,309.63 235.96,309.57 237.86,309.51 239.77,309.45 241.67,309.40 243.58,309.34 245.48,309.28 247.39,309.23 249.29,309.17 251.19,309.11 253.10,309.06 255.00,309.00 256.91,308.95 258.81,308.90 260.72,308.84 262.62,308.79 264.53,308.74 266.43,308.69 268.33,308.64 270.24,308.59 272.14,308.54 274.05,308.49" fill="none" stroke="#1e1e1e" stroke-width="1.3"/>
<polyline points="361.00,333.10 363.27,332.21 365.54,331.34 367.80,330.50 370.07,329.68 372.34,328.89 374.61,328.12 376.88,327.37 379.14,326.65 381.41,325.95 383.68,325.28 385.95,324.63 388.22,324.01 390.48,323.41 392.75,322.83 395.02,322.28 397.29,321.76 399.56,321.26 401.82,320.78 404.09,320.32 406.36,319.90 408.63,319.49 410.90,319.11 413.16,318.76 415.43,318.43 417.70,318.12 419.97,317.84 422.24,317.58 424.50,317.35 426.77,317.14 429.04,316.95 431.31,316.79 433.58,316.66 435.84,316.54 438.11,316.46 440.38,316.39 442.65,316.36 444.92,316.34 447.18,316.35 449.45,316.39 451.72,316.45 453.99,316.53 456.26,316.64 458.52,316.77 460.79,316.93 463.06,317.11 465.33,317.31 467.60,317.54 469.86,317.80 472.13,318.08 474.40,318.38 476.67,318.71 478.94,319.06 481.20,319.44 483.47,319.84 485.74,320.26 488.01,320.71 490.28,321.18 492.54,321.68 494.81,322.20 497.08,322.75 499.35,323.32 501.62,323.92 503.88,324.54 506.15,325.18 508.42,325.85 510.69,326.55 512.96,327.26 515.22,328.01 517.49,328.77 519.76,329.56 522.03,330.38 524.30,331.22 526.56,332.08 528.83,332.97 531.10,333.88 533.37,334.82 535.64,335.78 537.90,336.77 540.17,337.78 542.44,338.81 544.71,339.87 546.98,340.96 549.24,342.07 551.51,343.20 553.78,344.35 556.05,345.54 558.32,346.74 560.58,347.97 562.85,349.23 565.12,350.50 567.39,351.81 569.66,353.14 571.92,354.49 574.19,355.86 576.46,357.26 578.73,358.69 581.00,360.14 583.26,361.61 585.53,363.11 587.80,364.63" fill="none" stroke="#1e1e1e" stroke-width="1.3"/>
<polyline points="47.79,582.98 49.80,579.62 51.80,577.25 53.81,575.42 55.81,573.92 57.82,572.64 59.82,571.54 61.83,570.57 63.83,569.69 65.84,568.90 67.84,568.18 69.85,567.51 71.85,566.90 73.85,566.32 75.86,565.78 77.86,565.27 79.87,564.79 81.87,564.34 83.88,563.91 85.88,563.50 87.89,563.11 89.89,562.73 91.90,562.38 93.90,562.03 95.91,561.70 97.91,561.38 99.92,561.07 101.92,560.78 103.93,560.49 105.93,560.21 107.94,559.94 109.94,559.68 111.95,559.43 113.95,559.18 115.96,558.94 117.96,558.71 119.97,558.48 121.97,558.26 123.98,558.04 125.98,557.83 127.99,557.63 129.99,557.43 132.00,557.23 134.00,557.04 136.01,556.85 138.01,556.67 140.01,556.48 142.02,556.31 144.02,556.13 146.03,555.97 148.03,555.80 150.04,555.63 152.04,555.47 154.05,555.32 156.05,555.16 158.06,555.01 160.06,554.86 162.07,554.71 164.07,554.57 166.08,554.43 168.08,554.29 170.09,554.15 172.09,554.01 174.10,553.88 176.10,553.75 178.11,553.62 180.11,553.49 182.12,553.36 184.12,553.24 186.13,553.12 188.13,552.99 190.14,552.88 192.14,552.76 194.15,552.64 196.15,552.53 198.16,552.41 200.16,552.30 202.17,552.19 204.17,552.08 206.17,551.97 208.18,551.87 210.18,551.76 212.19,551.66 214.19,551.56 216.20,551.45 218.20,551.35 220.21,551.25 222.21,551.16 224.22,551.06 226.22,550.96 228.23,550.87 230.23,550.77 232.24,550.68 234.24,550.59 236.25,550.50 238.25,550.41 240.26,550.32 242.26,550.23 244.27,550.14 246.27,550.05 248.28,549.97 250.28,549.88 252.29,549.80 254.29,549.72 256.30,549.63 258.30,549.55 260.31,549.47 262.31,549.39 264.32,549.31 266.32,549.23 268.32,549.15 270.33,549.07 272.33,549.00 274.34,548.92 276.34,548.84 278.35,548.77 280.35,548.69 282.36,548.62 284.36,548.55 286.37,548.47 288.37,548.40" fill="none" stroke="#1e1e1e" stroke-width="1.3"/>
<polyline points="351.00,583.66 353.29,582.86 355.57,582.08 357.86,581.31 360.14,580.55 362.43,579.81 364.71,579.08 367.00,578.36 369.28,577.66 371.56,576.98 373.85,576.31 376.13,575.65 378.42,575.01 380.70,574.38 382.99,573.77 385.27,573.17 387.56,572.58 389.85,572.01 392.13,571.46 394.42,570.91 396.70,570.39 398.99,569.87 401.27,569.38 403.56,568.89 405.84,568.42 408.12,567.97 410.41,567.53 412.69,567.10 414.98,566.69 417.26,566.29 419.55,565.91 421.83,565.54 424.12,565.18 426.40,564.84 428.69,564.52 430.98,564.20 433.26,563.91 435.55,563.63 437.83,563.36 440.12,563.10 442.40,562.86 444.69,562.64 446.97,562.43 449.25,562.23 451.54,562.05 453.82,561.88 456.11,561.73 458.39,561.59 460.68,561.47 462.97,561.36 465.25,561.26 467.53,561.18 469.82,561.11 472.11,561.06 474.39,561.02 476.68,561.00 478.96,560.99 481.25,560.99 483.53,561.01 485.81,561.05 488.10,561.09 490.38,561.16 492.67,561.23 494.96,561.32 497.24,561.43 499.52,561.55 501.81,561.69 504.10,561.83 506.38,562.00 508.66,562.17 510.95,562.37 513.24,562.57 515.52,562.79 517.81,563.03 520.09,563.28 522.38,563.54 524.66,563.82 526.94,564.11 529.23,564.42 531.51,564.74 533.80,565.08 536.09,565.43 538.37,565.79 540.65,566.17 542.94,566.57 545.23,566.97 547.51,567.40 549.79,567.83 552.08,568.28 554.37,568.75 556.65,569.23 558.93,569.72 561.22,570.23 563.50,570.75 565.79,571.29 568.08,571.84 570.36,572.41 572.64,572.99 574.93,573.58 577.22,574.19 579.50,574.82" fill="none" stroke="#1e1e1e" stroke-width="1.3"/>
<text x="170.4" y="226.8" text-anchor="middle" class="ti">Initial soil pH</text>
<text x="468.2" y="228.3" text-anchor="middle" class="ti">Ambient N deposition (g m<tspan class="tsup" dx="0.8" dy="-5.5">-2</tspan><tspan dy="5.5"> yr</tspan><tspan class="tsup" dx="0.8" dy="-5.5">-1</tspan><tspan dy="5.5">)</tspan></text>
<text x="170.4" y="467.5" text-anchor="middle" class="ti">Soil C content (g kg<tspan class="tsup" dx="0.8" dy="-5.5">-1</tspan><tspan dy="5.5">)</tspan></text>
<text x="468.4" y="466.5" text-anchor="middle" class="ti">Rainfall (mm)</text>
<text x="170.4" y="708.4" text-anchor="middle" class="ti">Soil total N content (%)</text>
<text x="468.2" y="709.2" text-anchor="middle" class="ti">Air temperature (<tspan class="tsup" dy="-5.6">o</tspan><tspan dy="5.6">C)</tspan></text>
<text x="51.0" y="164.7" class="eq">y= -0.020x +1.061</text>
<text x="51.0" y="179.6" class="eq">R<tspan class="esup" dy="-6">2</tspan><tspan dy="6">=0.161 p&lt;0.001</tspan></text>
<text x="54.2" y="401.2" class="eq">Y= 0.930X<tspan class="sup" dy="-6.5">0.018</tspan></text>
<text x="54.2" y="415.4" class="eq">R<tspan class="esup" dy="-6">2</tspan><tspan dy="6">=0.133 <tspan font-style="italic">p</tspan>=0.015</tspan></text>
<text x="49.6" y="664.2" class="eq" style="white-space:pre">Y=0.989X<tspan class="sup" dy="-6.5">0.026</tspan><tspan dy="6.5"> R</tspan><tspan class="esup" dy="-6">2</tspan><tspan dy="6">=0.176  <tspan font-style="italic">p</tspan>=0.006</tspan></text>
<text x="370.0" y="406.0" class="eq">Y= -3.654E-008X<tspan class="esup" dy="-6">2</tspan><tspan dy="6"> +1.080E-004X +0.906</tspan></text>
<text x="370.0" y="421.5" class="eq">R<tspan class="esup" dy="-6">2</tspan><tspan dy="6">=0.138 <tspan font-style="italic">p</tspan>&lt;0.001</tspan></text>
<text x="399.4" y="647.4" class="eq">Y= -2.180E-004X<tspan class="esup" dy="-6">2</tspan><tspan dy="6"> +0.006X +0.937</tspan></text>
<text x="399.4" y="662.3" class="eq">R<tspan class="esup" dy="-6">2</tspan><tspan dy="6">=0.087 <tspan font-style="italic">p</tspan>=0.003</tspan></text>
</svg>
</body></html>
